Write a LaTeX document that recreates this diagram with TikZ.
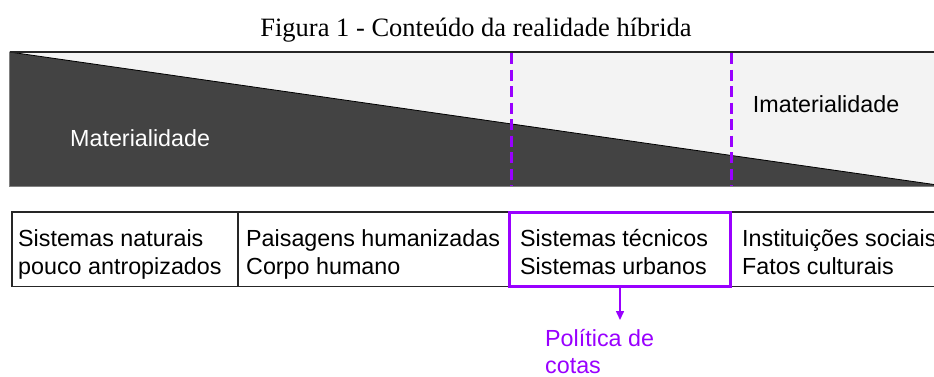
\documentclass[tikz,border=0pt]{standalone}
\usepackage{fontspec}
\setmainfont{Liberation Sans}
\newfontfamily\titlefont{Liberation Serif}
\usetikzlibrary{arrows.meta}
\definecolor{darkfill}{HTML}{434343}
\definecolor{lightfill}{HTML}{F3F3F3}
\definecolor{purp}{HTML}{9900FF}
\begin{document}
\begin{tikzpicture}[x=1pt,y=-1pt,
  txt/.style={font=\fontsize{23.3}{27.5}\selectfont, inner sep=0pt, anchor=base west},
  cellbox/.style={draw=black!85, line width=1.5pt, rectangle, inner sep=0pt, minimum height=74.5pt},
  vdash/.style={purp, line width=3pt, dash pattern=on 11pt off 5.5pt},
  purpbox/.style={cellbox, draw=purp, line width=3pt},
  purparrow/.style={purp, line width=1.5pt, -{Triangle[length=9pt,width=8pt]}}
  ]
\useasboundingbox (0,0) rectangle (934,376);
\clip (0,0) rectangle (934,376);
% title
\node[font=\titlefont\fontsize{26.5}{30}\selectfont, anchor=base, inner sep=0pt] (title) at (476,36.7) {Figura 1 - Conteúdo da realidade híbrida};
% band
\fill[lightfill] (9.5,52) rectangle (940,186.5);
\fill[darkfill] (9.5,52) -- (934,184.5) -- (934,186.5) -- (9.5,186.5) -- cycle;
\draw[black, line width=0.8pt] (9.5,52) -- (934,184.5);
\draw[gray, line width=0.6pt] (9.5,52) -- (9.5,186.5) -- (940,186.5);
\draw[black!85, line width=1.5pt] (9.5,52) -- (940,52);
\draw[vdash] (511,53) -- (511,186);
\draw[vdash] (731,53) -- (731,186);
\node[txt, text=white] (mat) at (70,146.7) {Materialidade};
\node[txt] (imat) at (752.7,112.7) {Imaterialidade};
% table
\node[cellbox, minimum width=226pt] (c1) at (125,249.25) {};
\node[cellbox, minimum width=272pt] (c2) at (374,249.25) {};
\node[cellbox, minimum width=230pt] (c4) at (845,249.25) {};
\node[purpbox, minimum width=221pt] (c3) at (620,249.25) {};
\node[txt] (t1) at (18,246.7) {\begin{tabular}[t]{@{}l@{}}Sistemas naturais\\pouco antropizados\end{tabular}};
\node[txt] (t2) at (246,246.7) {\begin{tabular}[t]{@{}l@{}}Paisagens humanizadas\\Corpo humano\end{tabular}};
\node[txt] (t3) at (520,246.7) {\begin{tabular}[t]{@{}l@{}}Sistemas técnicos\\Sistemas urbanos\end{tabular}};
\node[txt] (t4) at (742,246.7) {\begin{tabular}[t]{@{}l@{}}Instituições sociais\\Fatos culturais\end{tabular}};
% arrow and label
\coordinate (tip) at (620,320);
\draw[purparrow] (c3.south) -- (tip);
\node[txt, text=purp] (pol) at (545,346) {\begin{tabular}[t]{@{}l@{}}Política de\\cotas\end{tabular}};
\end{tikzpicture}
\end{document}
